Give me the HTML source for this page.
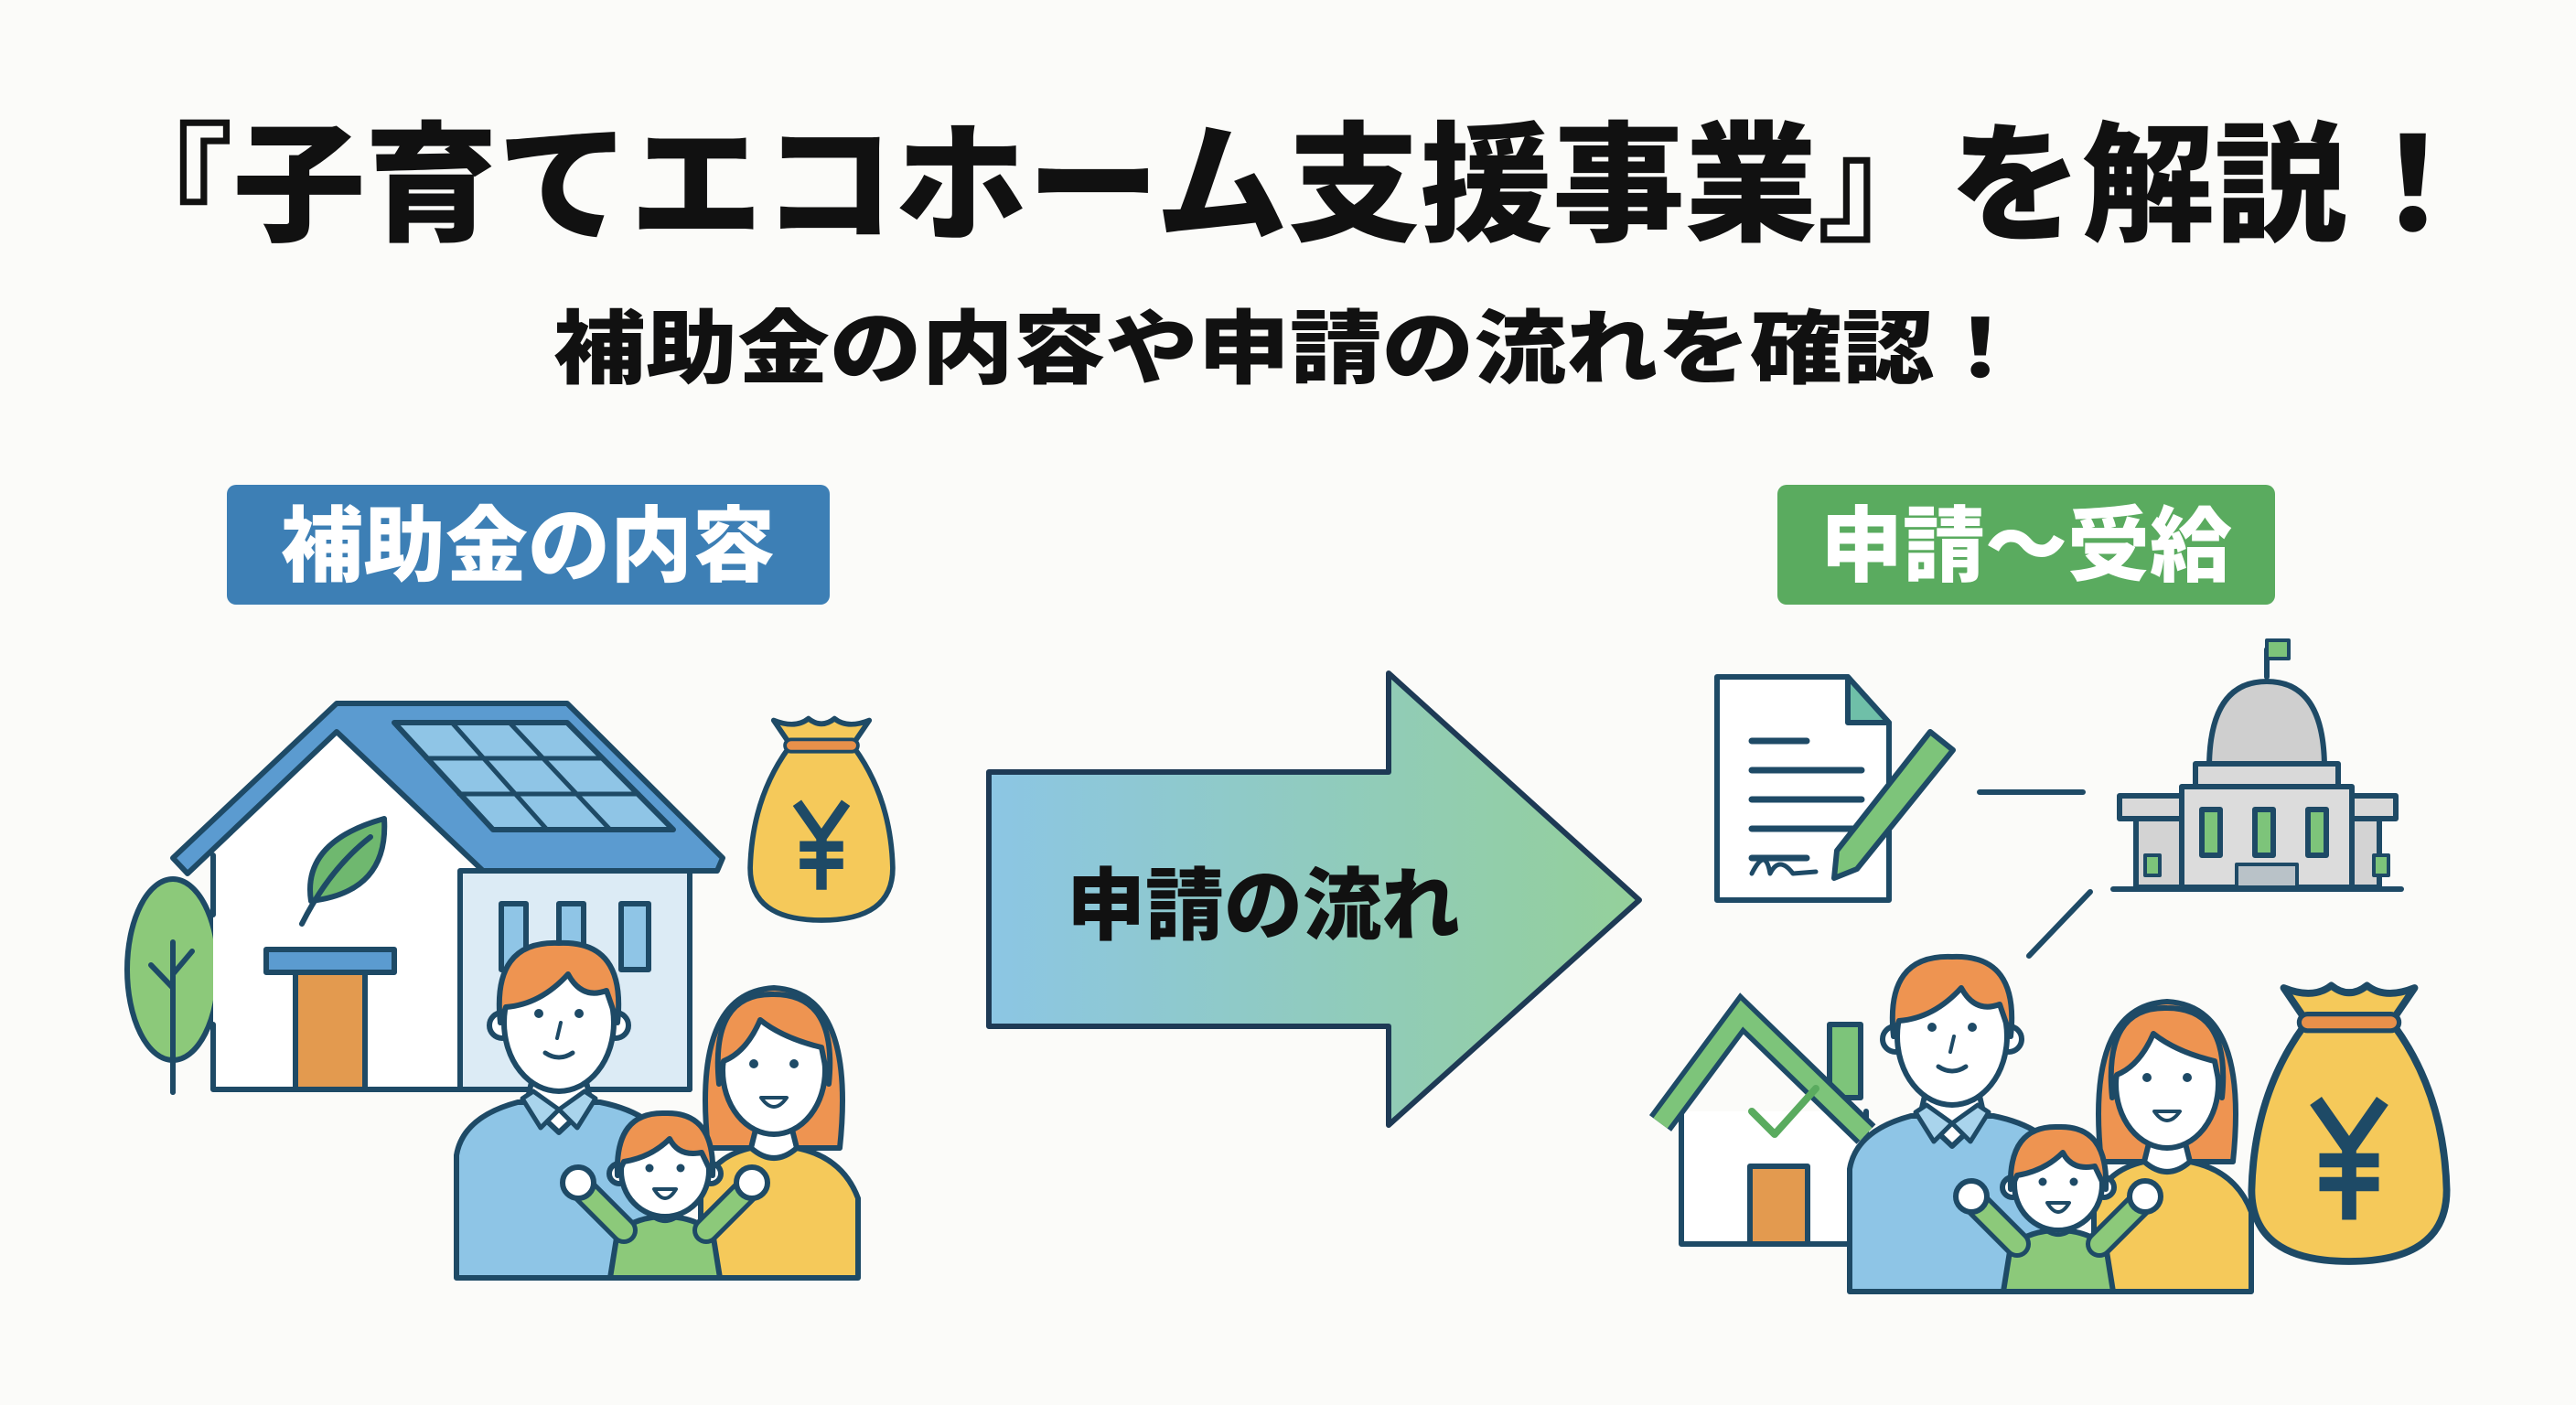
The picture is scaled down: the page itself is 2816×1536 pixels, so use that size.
<!DOCTYPE html>
<html><head><meta charset="utf-8"><style>
html,body{margin:0;padding:0;background:#fbfbf9;}
svg{display:block}
text{font-family:"Liberation Sans","Noto Sans CJK JP",sans-serif;font-weight:900}
</style></head><body>
<svg width="2816" height="1536" viewBox="0 0 2816 1536" xmlns="http://www.w3.org/2000/svg">
<defs>
<linearGradient id="ag" x1="0" x2="1" y1="0" y2="0">
<stop offset="0" stop-color="#8cc6e4"/><stop offset="1" stop-color="#94d09a"/></linearGradient>
<g id="bag">
<path d="M-38,-125 L-55,-150 Q-30,-140 -15,-152 Q0,-140 15,-152 Q30,-140 55,-150 L38,-125 Z" fill="#f5c95a" stroke="#1e4a66" stroke-width="6" stroke-linejoin="round"/>
<path d="M-38,-118 Q-80,-60 -82,20 Q-82,80 0,80 Q82,80 82,20 Q80,-60 38,-118 Z" fill="#f5c95a" stroke="#1e4a66" stroke-width="6"/>
<rect x="-42" y="-128" width="84" height="14" rx="7" fill="#e8904a" stroke="#1e4a66" stroke-width="4"/>
<path d="M-28,-55 L0,-15 L28,-55 M0,-15 L0,45 M-25,-5 L25,-5 M-25,15 L25,15" fill="none" stroke="#1e4a66" stroke-width="12"/>
</g>
<g id="fam" stroke="#1e4a66" stroke-width="6" stroke-linejoin="round" stroke-linecap="round">
<path d="M-112,284 L-112,150 Q-105,108 -45,92 L45,92 Q110,105 125,150 L125,284 Z" fill="#8ec5e6"/>
<path d="M-35,92 L0,125 L35,92 L30,70 L-30,70 Z" fill="#fff"/>
<path d="M-40,88 L-20,120 L0,100 L20,120 L40,88 L28,80 L0,100 L-28,80 Z" fill="#a9d4ec" stroke-width="5"/>
<circle cx="-62" cy="8" r="14" fill="#fff"/><circle cx="62" cy="8" r="14" fill="#fff"/>
<ellipse cx="0" cy="5" rx="60" ry="75" fill="#fff"/>
<path d="M-64,5 Q-74,-85 0,-82 Q74,-85 64,5 L52,-30 Q25,-20 10,-48 Q-20,-15 -58,-12 Z" fill="#ee9451"/>
<circle cx="-22" cy="-5" r="5" fill="#1e4a66" stroke="none"/><circle cx="22" cy="-5" r="5" fill="#1e4a66" stroke="none"/>
<path d="M2,5 L-2,22" fill="none" stroke-width="4"/>
<path d="M-15,38 Q0,48 15,38" fill="none" stroke-width="5"/>
<g transform="translate(235,52)">
<path d="M-72,90 Q-90,-80 0,-85 Q90,-80 72,90 Z" fill="#ee9451"/>
<path d="M-80,232 L-80,140 Q-70,100 -25,90 L25,90 Q75,100 92,145 L92,232 Z" fill="#f5c95a"/>
<path d="M-25,90 Q0,112 25,90 L20,70 L-20,70 Z" fill="#fff"/>
<ellipse cx="0" cy="5" rx="56" ry="70" fill="#fff"/>
<path d="M-60,20 Q-70,-80 0,-78 Q70,-78 60,20 L52,-20 Q10,-30 -15,-50 Q-30,-15 -55,-5 Z" fill="#ee9451"/>
<circle cx="-22" cy="-2" r="5" fill="#1e4a66" stroke="none"/><circle cx="22" cy="-2" r="5" fill="#1e4a66" stroke="none"/>
<path d="M-14,35 Q0,55 14,35 Z" fill="#fff" stroke-width="4"/>
</g>
<g transform="translate(116,162)">
<path d="M-60,122 L-52,72 Q-30,55 0,55 Q30,55 52,72 L60,122 Z" fill="#8cc97a"/>
<path d="M-45,70 L-90,25 M45,70 L90,25" fill="none" stroke="#1e4a66" stroke-width="30"/>
<path d="M-45,70 L-90,25 M45,70 L90,25" fill="none" stroke="#8cc97a" stroke-width="20"/>
<circle cx="-95" cy="18" r="17" fill="#fff"/><circle cx="95" cy="18" r="17" fill="#fff"/>
<path d="M-18,52 Q0,68 18,52" fill="#fff" stroke-width="4"/>
<circle cx="-50" cy="8" r="11" fill="#fff"/><circle cx="50" cy="8" r="11" fill="#fff"/>
<ellipse cx="0" cy="5" rx="48" ry="50" fill="#fff"/>
<path d="M-52,10 Q-55,-60 0,-58 Q55,-60 52,10 L40,-15 Q15,-10 5,-30 Q-15,-10 -45,-5 Z" fill="#ee9451"/>
<circle cx="-17" cy="2" r="4.5" fill="#1e4a66" stroke="none"/><circle cx="17" cy="2" r="4.5" fill="#1e4a66" stroke="none"/>
<path d="M-12,25 Q0,45 12,25 Z" fill="#fff" stroke-width="4"/>
</g>
</g>
</defs>

<text x="1410" y="252" font-size="142" text-anchor="middle" fill="#111" textLength="2600" lengthAdjust="spacingAndGlyphs">『子育てエコホーム支援事業』を解説！</text>
<text x="1410" y="412" font-size="88" text-anchor="middle" fill="#111" textLength="1610" lengthAdjust="spacingAndGlyphs">補助金の内容や申請の流れを確認！</text>

<rect x="248" y="530" width="659" height="131" rx="10" fill="#3d7fb5"/>
<text x="577" y="628" font-size="90" text-anchor="middle" fill="#fff">補助金の内容</text>
<rect x="1943" y="530" width="544" height="131" rx="10" fill="#5aab5f"/>
<text x="2215" y="628" font-size="90" text-anchor="middle" fill="#fff">申請〜受給</text>

<polygon points="1081,844 1518,844 1518,736 1792,984 1518,1230 1518,1122 1081,1122" fill="url(#ag)" stroke="#1e3a55" stroke-width="6" stroke-linejoin="round"/>
<text x="1381" y="1020" font-size="86" text-anchor="middle" fill="#111">申請の流れ</text>

<g stroke="#1e4a66" stroke-width="6" stroke-linejoin="round" stroke-linecap="round">
<path d="M189,1194 L189,1110" fill="none"/>
<ellipse cx="189" cy="1060" rx="50" ry="99" fill="#8cc97a"/>
<path d="M189,1194 L189,1030 M189,1080 L165,1055 M189,1065 L210,1040" fill="none"/>
<rect x="503" y="952" width="251" height="239" fill="#dcebf5"/>
<path d="M233,930 L368,800 L503,930 L503,1191 L233,1191 Z" fill="#fff" stroke="none"/>
<path d="M233,935 L233,1000 M233,1120 L233,1191 L754,1191 M503,952 L503,1191" fill="none"/>
<path d="M189,938 L368,769 L620,769 L790,938 L784,952 L528,952 L368,800 L205,955 Z" fill="#5b9bd0"/>
<polygon points="431,790 620,790 736,907 539,907" fill="#8fc5e6"/>
<path d="M494,790 L598,907 M557,790 L667,907 M466,829 L659,829 M502,868 L698,868" fill="none" stroke-width="5"/>
<path d="M340,985 Q330,920 420,895 Q425,975 340,985 Z" fill="#6fb86f"/>
<path d="M330,1010 Q360,950 405,915" fill="none"/>
<polygon points="291,1038 431,1038 431,1063 291,1063" fill="#5b9bd0"/>
<rect x="323" y="1063" width="76" height="128" fill="#e39a4f"/>
<rect x="548" y="988" width="27" height="72" fill="#8fc5e6"/>
<rect x="611" y="988" width="27" height="72" fill="#8fc5e6"/>
<rect x="679" y="988" width="30" height="72" fill="#8fc5e6"/>
</g>
<use href="#bag" transform="translate(898,930) scale(0.95)"/>
<use href="#fam" transform="translate(611,1113)"/>

<g stroke="#1e4a66" stroke-width="6" stroke-linejoin="round" stroke-linecap="round">
<path d="M1877,740 L2020,740 L2065,790 L2065,984 L1877,984 Z" fill="#fff"/>
<path d="M2020,740 L2020,790 L2065,790 Z" fill="#6fbfa8"/>
<path d="M1915,810 L1975,810 M1915,842 L2035,842 M1915,874 L2035,874 M1915,906 L2035,906 M1915,938 L1975,938" fill="none" stroke-width="7"/>
<path d="M1915,955 Q1930,925 1935,955 Q1945,935 1960,955 L1985,953" fill="none" stroke-width="5"/>
<path d="M2110,800 L2135,820 L2030,950 L2005,960 L2008,930 Z" fill="#7dc47a"/>
<path d="M2164,866 L2277,866 M2285,975 L2218,1045" fill="none"/>
<path d="M2478,740 L2478,710" fill="none"/>
<rect x="2478" y="700" width="24" height="20" fill="#7dc47a" stroke-width="4"/>
<path d="M2415,840 Q2415,745 2478,745 Q2541,745 2541,840 Z" fill="#cfcfcf"/>
<rect x="2400" y="835" width="156" height="25" fill="#d9d9d9"/>
<rect x="2317" y="870" width="302" height="25" fill="#d9d9d9"/>
<rect x="2335" y="895" width="266" height="75" fill="#d3d3d3"/>
<rect x="2385" y="860" width="186" height="110" fill="#dcdcdc"/>
<rect x="2407" y="885" width="20" height="50" fill="#7dc47a"/>
<rect x="2465" y="885" width="20" height="50" fill="#7dc47a"/>
<rect x="2523" y="885" width="20" height="50" fill="#7dc47a"/>
<rect x="2345" y="935" width="16" height="22" fill="#7dc47a" stroke-width="4"/>
<rect x="2595" y="935" width="16" height="22" fill="#7dc47a" stroke-width="4"/>
<rect x="2445" y="945" width="66" height="25" fill="#b9c2c8" stroke-width="4"/>
<path d="M2310,972 L2625,972" fill="none"/>
<rect x="2000" y="1120" width="34" height="80" fill="#7dc47a"/>
<path d="M1838,1215 L1838,1360 L2040,1360 L2040,1215" fill="#fff"/>
<path d="M1815,1228 L1904,1108 L2040,1240" fill="none" stroke="#1e4a66" stroke-width="30" stroke-linejoin="miter" stroke-linecap="butt"/>
<path d="M1815,1228 L1904,1108 L2040,1240" fill="none" stroke="#7dc47a" stroke-width="19" stroke-linejoin="miter" stroke-linecap="butt"/>
<path d="M1915,1215 L1940,1240 L1985,1190" fill="none" stroke="#5aab5f" stroke-width="8"/>
<rect x="1913" y="1275" width="63" height="85" fill="#e39a4f"/>
</g>
<use href="#fam" transform="translate(2134,1128)"/>
<use href="#bag" transform="translate(2568,1275) scale(1.3)"/>
</svg>
</body></html>
